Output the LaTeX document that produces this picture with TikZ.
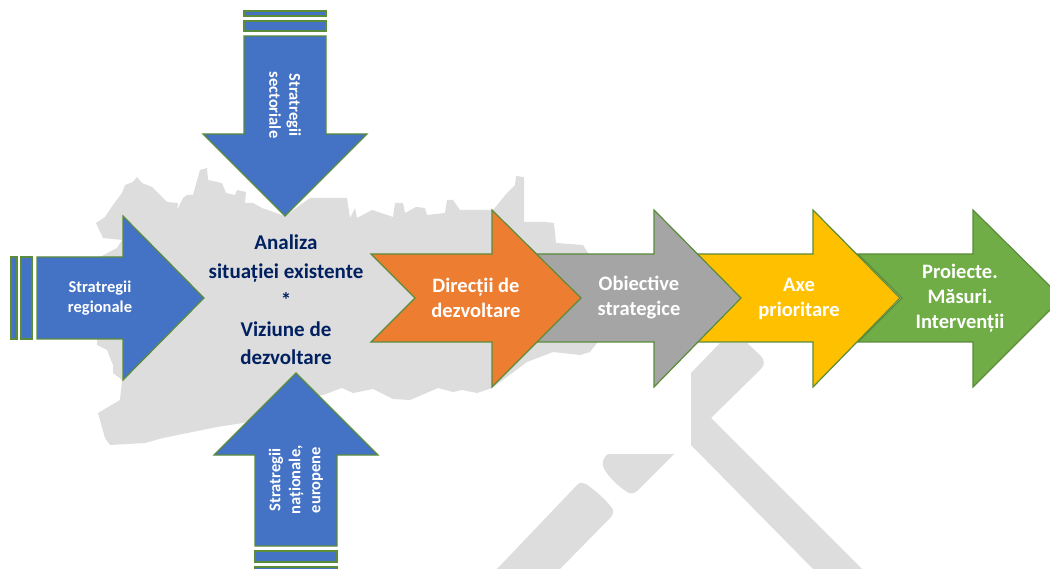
\documentclass[tikz,border=0pt]{standalone}
\usepackage{fontspec}
\setmainfont{Carlito}[BoldFont={Carlito Bold}]
\definecolor{mapgrey}{HTML}{DDDDDD}
\definecolor{edgegreen}{HTML}{5B8C3A}
\definecolor{cblue}{HTML}{4472C4}
\definecolor{corange}{HTML}{ED7D31}
\definecolor{cgrey}{HTML}{A5A5A5}
\definecolor{cyellow}{HTML}{FFC000}
\definecolor{cgreen}{HTML}{70AD47}
\definecolor{navy}{HTML}{002060}
\tikzset{
  mapshape/.style={fill=mapgrey,draw=none},
  arrowshape/.style={draw=edgegreen,line width=1.2pt,line join=miter},
  bluearrow/.style={arrowshape,fill=cblue},
  whitetext/.style={text=white,font=\bfseries,align=center,inner sep=0pt},
  smalltext/.style={whitetext,font=\bfseries\fontsize{16.5}{20}\selectfont},
  bigtext/.style={whitetext,font=\bfseries\fontsize{20.5}{25}\selectfont},
  centertext/.style={text=navy,align=center,inner sep=0pt,font=\bfseries\fontsize{21}{28.75}\selectfont}
}
\begin{document}
\begin{tikzpicture}[x=1pt,y=-1pt]
\useasboundingbox (0,0) rectangle (1050,569);
\clip (0,0) rectangle (1050,569);
% map silhouette
\path[mapshape] (96,223) -- (105,217) -- (113,205) -- (122,193) -- (125,185) -- (133,182) -- (137,177)
 -- (142,183) -- (152,187) -- (167,202) -- (178,203) -- (177,210) -- (183,198) -- (187,195) -- (193,195)
 -- (200,170) -- (207,168) -- (208,180) -- (222,183) -- (226,193) -- (235,195) -- (237,190) -- (246,192)
 -- (245,203) -- (253,203) -- (262,208) -- (285,216) -- (310,198) -- (347,198) -- (350,218) -- (355,208)
 -- (357,218) -- (372,210) -- (393,217) -- (395,203) -- (403,203) -- (405,213) -- (416,207) -- (425,208)
 -- (427,215) -- (445,213) -- (447,200) -- (453,200) -- (460,210) -- (493,210) -- (507,193) -- (515,185)
 -- (516,176) -- (524,177) -- (524,222) -- (545,222) -- (554,223) -- (556,243) -- (583,245) -- (588,253)
 -- (600,300) -- (597,343) -- (590,352) -- (580,355) -- (553,352) -- (527,362) -- (492,388) -- (477,393)
 -- (462,390) -- (453,392) -- (438,388) -- (410,400) -- (393,399) -- (373,389) -- (353,393) -- (342,388)
 -- (323,395) -- (290,400) -- (243,423) -- (217,427) -- (163,438) -- (145,443) -- (110,445) -- (105,438)
 -- (98,413) -- (120,400) -- (122,380) -- (113,373) -- (113,365) -- (107,350) -- (97,345) -- (97,320)
 -- (100,257) -- (117,248) -- (122,240) -- (103,238) -- cycle;
% watermark shapes
\path[mapshape] (691,373) -- (720,343) -- (747,343) -- (760,355)
 .. controls (765,360) and (765,365) .. (761,369) -- (711,418) -- (862,569) -- (813,569) -- (691,445) -- cycle;
\path[mapshape] (608,454) -- (674,454) -- (637,491) .. controls (634,494) and (630,494) .. (627,492)
 .. controls (618,486) and (606,475) .. (603,466) .. controls (602,461) and (604,457) .. (608,454) -- cycle;
\path[mapshape] (578,484) .. controls (581,482) and (584,483) .. (586,484)
 .. controls (596,491) and (606,500) .. (612,508) .. controls (614,511) and (613,514) .. (611,517)
 -- (560,569) -- (497,569) -- cycle;
% process arrows (back to front)
\draw[arrowshape,fill=cgreen] (858,254) -- (973,254) -- (973,210) -- (1062,298) -- (973,387) -- (973,342) -- (858,342) -- (902,298) -- cycle;
\draw[arrowshape,fill=cyellow] (696,254) -- (813,254) -- (813,210) -- (900,298) -- (813,387) -- (813,342) -- (696,342) -- (740,298) -- cycle;
\draw[arrowshape,fill=cgrey] (531,254) -- (654,254) -- (654,210) -- (741,298) -- (654,387) -- (654,342) -- (531,342) -- (575,298) -- cycle;
\draw[arrowshape,fill=corange] (371,254) -- (492,254) -- (492,210) -- (581,298) -- (492,387) -- (492,342) -- (371,342) -- (415,298) -- cycle;
% left blue arrow
\draw[bluearrow] (11,257) rectangle (17,339);
\draw[bluearrow] (21,257) rectangle (32,339);
\draw[bluearrow] (37,257) -- (123,257) -- (123,216) -- (204,298) -- (123,380) -- (123,339) -- (37,339) -- cycle;
% top blue arrow
\draw[bluearrow] (244,11) rectangle (326,16);
\draw[bluearrow] (244,21) rectangle (326,31);
\draw[bluearrow] (244,36) -- (326,36) -- (326,134) -- (367,134) -- (285,216) -- (203,134) -- (244,134) -- cycle;
% bottom blue arrow
\draw[bluearrow] (255,551) rectangle (337,562);
\draw[bluearrow] (255,567) rectangle (337,575);
\draw[bluearrow] (255,546) -- (337,546) -- (337,455) -- (378,455) -- (296,373) -- (214,455) -- (255,455) -- cycle;
% labels
\node[centertext] (centre) at (286,300) {Analiza\\situației existente\\*\\Viziune de\\dezvoltare};
\node[smalltext] (regional) at (100,298) {Stratregii\\regionale};
\node[smalltext,rotate=-90] (sectorial) at (285,105) {Stratregii\\sectoriale};
\node[smalltext,rotate=90] (national) at (296,480) {Stratregii\\naționale,\\europene};
\node[bigtext] (directii) at (476,298) {Direcții de\\dezvoltare};
\node[bigtext] (obiective) at (639,298) {Obiective\\strategice};
\node[bigtext] (axe) at (799,299) {Axe\\prioritare};
\node[bigtext] (proiecte) at (960,298) {Proiecte.\\Măsuri.\\Intervenții};
\end{tikzpicture}
\end{document}
